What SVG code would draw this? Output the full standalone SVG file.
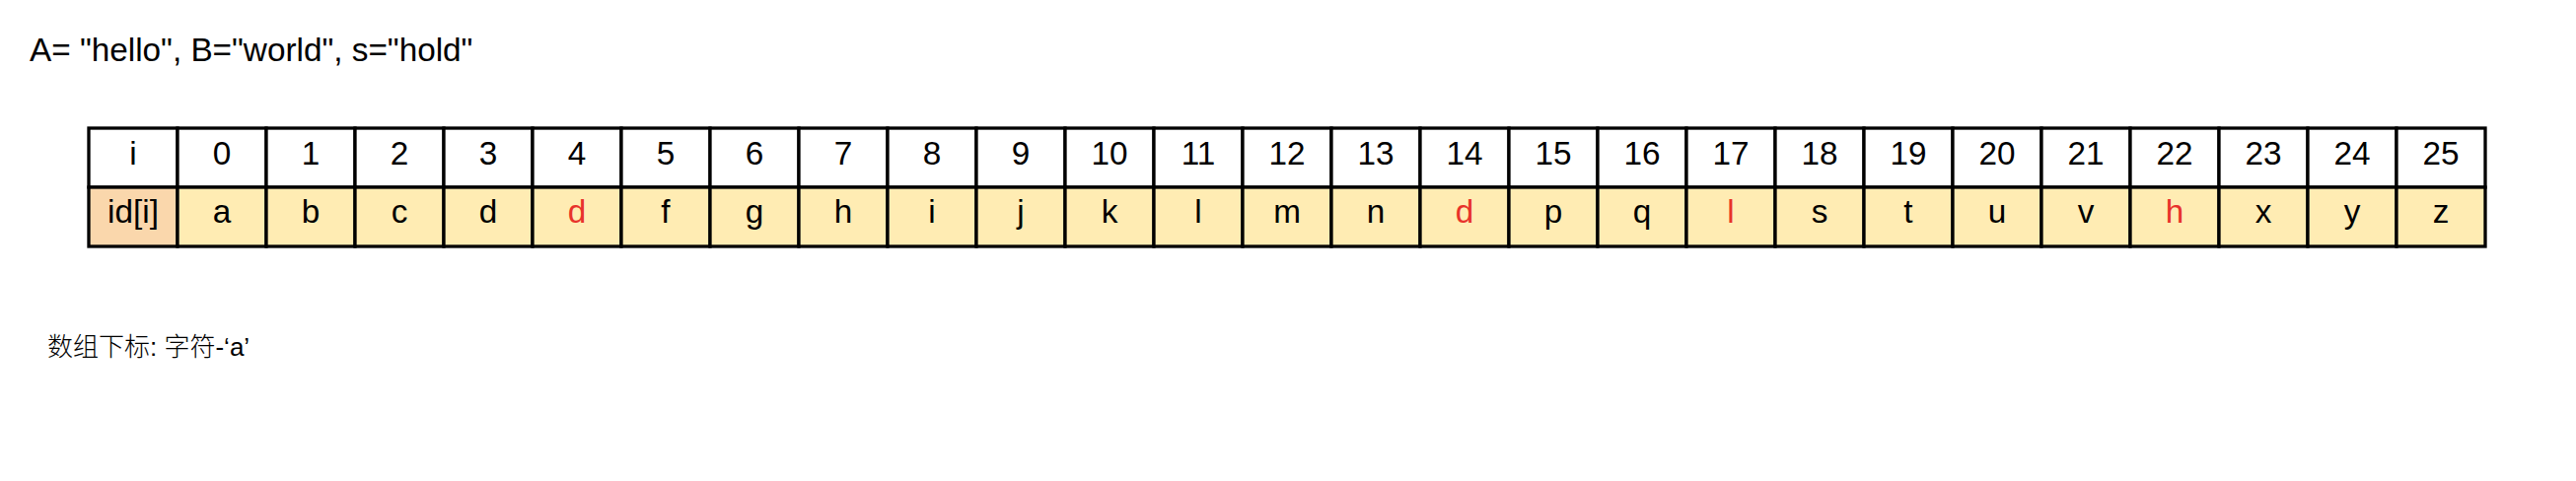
<svg xmlns="http://www.w3.org/2000/svg" width="2612" height="488" viewBox="0 0 2612 488">
<style>
.t{font-family:"Liberation Sans",Arial,sans-serif;font-size:33.3px;fill:#000;text-anchor:middle}
.r{fill:#E8322B}
.hd{fill:#fff;stroke:#000;stroke-width:3.3}
.cl{fill:#FFECB3;stroke:#000;stroke-width:3.3}
.lb{fill:#FAD7AC;stroke:#000;stroke-width:3.3}
</style>
<rect width="2612" height="488" fill="#fff"/>
<text id="title" x="30" y="62" font-family="Liberation Sans, Arial, sans-serif" font-size="33.3" fill="#000">A= "hello", B="world", s="hold"</text>
<g id="table">
<g id="row-i">
<rect class="hd" x="90" y="130" width="90" height="60"/><text class="t" x="135" y="167">i</text>
<rect class="hd" x="180" y="130" width="90" height="60"/><text class="t" x="225" y="167">0</text>
<rect class="hd" x="270" y="130" width="90" height="60"/><text class="t" x="315" y="167">1</text>
<rect class="hd" x="360" y="130" width="90" height="60"/><text class="t" x="405" y="167">2</text>
<rect class="hd" x="450" y="130" width="90" height="60"/><text class="t" x="495" y="167">3</text>
<rect class="hd" x="540" y="130" width="90" height="60"/><text class="t" x="585" y="167">4</text>
<rect class="hd" x="630" y="130" width="90" height="60"/><text class="t" x="675" y="167">5</text>
<rect class="hd" x="720" y="130" width="90" height="60"/><text class="t" x="765" y="167">6</text>
<rect class="hd" x="810" y="130" width="90" height="60"/><text class="t" x="855" y="167">7</text>
<rect class="hd" x="900" y="130" width="90" height="60"/><text class="t" x="945" y="167">8</text>
<rect class="hd" x="990" y="130" width="90" height="60"/><text class="t" x="1035" y="167">9</text>
<rect class="hd" x="1080" y="130" width="90" height="60"/><text class="t" x="1125" y="167">10</text>
<rect class="hd" x="1170" y="130" width="90" height="60"/><text class="t" x="1215" y="167">11</text>
<rect class="hd" x="1260" y="130" width="90" height="60"/><text class="t" x="1305" y="167">12</text>
<rect class="hd" x="1350" y="130" width="90" height="60"/><text class="t" x="1395" y="167">13</text>
<rect class="hd" x="1440" y="130" width="90" height="60"/><text class="t" x="1485" y="167">14</text>
<rect class="hd" x="1530" y="130" width="90" height="60"/><text class="t" x="1575" y="167">15</text>
<rect class="hd" x="1620" y="130" width="90" height="60"/><text class="t" x="1665" y="167">16</text>
<rect class="hd" x="1710" y="130" width="90" height="60"/><text class="t" x="1755" y="167">17</text>
<rect class="hd" x="1800" y="130" width="90" height="60"/><text class="t" x="1845" y="167">18</text>
<rect class="hd" x="1890" y="130" width="90" height="60"/><text class="t" x="1935" y="167">19</text>
<rect class="hd" x="1980" y="130" width="90" height="60"/><text class="t" x="2025" y="167">20</text>
<rect class="hd" x="2070" y="130" width="90" height="60"/><text class="t" x="2115" y="167">21</text>
<rect class="hd" x="2160" y="130" width="90" height="60"/><text class="t" x="2205" y="167">22</text>
<rect class="hd" x="2250" y="130" width="90" height="60"/><text class="t" x="2295" y="167">23</text>
<rect class="hd" x="2340" y="130" width="90" height="60"/><text class="t" x="2385" y="167">24</text>
<rect class="hd" x="2430" y="130" width="90" height="60"/><text class="t" x="2475" y="167">25</text>
</g>
<g id="row-id">
<rect class="lb" x="90" y="190" width="90" height="60"/><text class="t" x="135" y="226">id[i]</text>
<rect class="cl" x="180" y="190" width="90" height="60"/><text class="t" x="225" y="226">a</text>
<rect class="cl" x="270" y="190" width="90" height="60"/><text class="t" x="315" y="226">b</text>
<rect class="cl" x="360" y="190" width="90" height="60"/><text class="t" x="405" y="226">c</text>
<rect class="cl" x="450" y="190" width="90" height="60"/><text class="t" x="495" y="226">d</text>
<rect class="cl" x="540" y="190" width="90" height="60"/><text class="t r" x="585" y="226">d</text>
<rect class="cl" x="630" y="190" width="90" height="60"/><text class="t" x="675" y="226">f</text>
<rect class="cl" x="720" y="190" width="90" height="60"/><text class="t" x="765" y="226">g</text>
<rect class="cl" x="810" y="190" width="90" height="60"/><text class="t" x="855" y="226">h</text>
<rect class="cl" x="900" y="190" width="90" height="60"/><text class="t" x="945" y="226">i</text>
<rect class="cl" x="990" y="190" width="90" height="60"/><text class="t" x="1035" y="226">j</text>
<rect class="cl" x="1080" y="190" width="90" height="60"/><text class="t" x="1125" y="226">k</text>
<rect class="cl" x="1170" y="190" width="90" height="60"/><text class="t" x="1215" y="226">l</text>
<rect class="cl" x="1260" y="190" width="90" height="60"/><text class="t" x="1305" y="226">m</text>
<rect class="cl" x="1350" y="190" width="90" height="60"/><text class="t" x="1395" y="226">n</text>
<rect class="cl" x="1440" y="190" width="90" height="60"/><text class="t r" x="1485" y="226">d</text>
<rect class="cl" x="1530" y="190" width="90" height="60"/><text class="t" x="1575" y="226">p</text>
<rect class="cl" x="1620" y="190" width="90" height="60"/><text class="t" x="1665" y="226">q</text>
<rect class="cl" x="1710" y="190" width="90" height="60"/><text class="t r" x="1755" y="226">l</text>
<rect class="cl" x="1800" y="190" width="90" height="60"/><text class="t" x="1845" y="226">s</text>
<rect class="cl" x="1890" y="190" width="90" height="60"/><text class="t" x="1935" y="226">t</text>
<rect class="cl" x="1980" y="190" width="90" height="60"/><text class="t" x="2025" y="226">u</text>
<rect class="cl" x="2070" y="190" width="90" height="60"/><text class="t" x="2115" y="226">v</text>
<rect class="cl" x="2160" y="190" width="90" height="60"/><text class="t r" x="2205" y="226">h</text>
<rect class="cl" x="2250" y="190" width="90" height="60"/><text class="t" x="2295" y="226">x</text>
<rect class="cl" x="2340" y="190" width="90" height="60"/><text class="t" x="2385" y="226">y</text>
<rect class="cl" x="2430" y="190" width="90" height="60"/><text class="t" x="2475" y="226">z</text>
</g>
</g>
<g id="connectors"/>
<text id="note" x="48" y="361" font-family="Liberation Sans, 'Noto Sans CJK SC', sans-serif" font-size="26" font-weight="300" fill="#000">数组下标: 字符-‘a’</text>
</svg>
